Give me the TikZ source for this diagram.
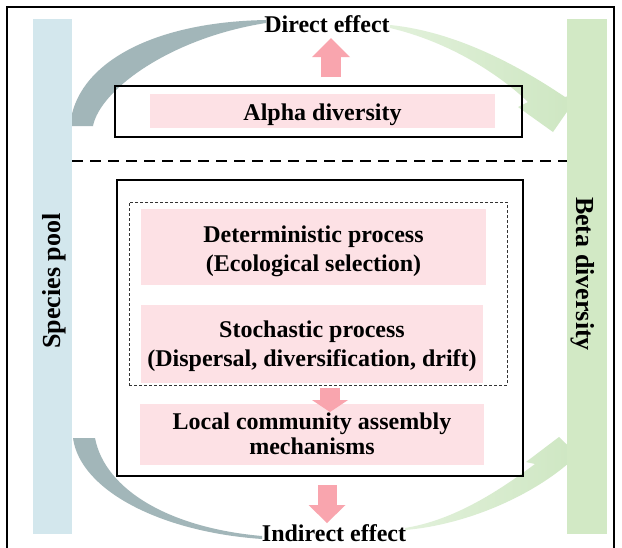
\documentclass[tikz,border=0pt]{standalone}
\usepackage{fontspec}
\setmainfont{Liberation Serif}
\usetikzlibrary{arrows.meta}

\definecolor{poolblue}{HTML}{D3E7ED}
\definecolor{betagreen}{HTML}{D2E9C5}
\definecolor{boxpink}{HTML}{FDE1E5}
\definecolor{arrowpink}{HTML}{F9A5AE}
\definecolor{bandgray}{HTML}{A2B6B9}
\definecolor{bandgreen}{HTML}{CDE6C1}
\definecolor{bandgreenpale}{HTML}{E2F1DB}

\begin{document}
\begin{tikzpicture}[x=1pt,y=-1pt,
  lbl/.style={anchor=base, inner sep=0pt, font=\fontsize{24}{28}\selectfont\bfseries},
  sidelbl/.style={anchor=base, inner sep=0pt, font=\fontsize{26}{30}\selectfont\bfseries},
  pinkbox/.style={fill=boxpink, draw=none, inner sep=0pt},
  framebox/.style={draw=black, line width=2pt, inner sep=0pt},
  sidebar/.style={draw=none, inner sep=0pt, minimum width=40pt, minimum height=515pt},
  flow/.style={draw=arrowpink}
]
\useasboundingbox (0,0) rectangle (622,547);
\fill[white] (0,0) rectangle (622,547);

% outer frame (runs past the lower edge)
\draw[line width=1.6pt] (7,565) -- (7,7) -- (614,7) -- (614,565);

% direct path: species pool -> beta diversity over the top
\fill[bandgray] (70,126) .. controls (75,65) and (150,22) .. (266,20)
  -- (266,23) .. controls (170,38) and (100,90) .. (93,126) -- cycle;
\shade[left color=bandgreenpale, right color=bandgreen]
  (390,25) .. controls (460,32) and (525,70) .. (565,97)
  -- (580,93) -- (553,132) -- (518,107) -- (528,102)
  .. controls (500,75) and (450,42) .. (390,28) -- cycle;

% indirect path: species pool -> beta diversity along the bottom
\fill[bandgray] (73,438) .. controls (80,490) and (160,532) .. (262,539)
  -- (262,536) .. controls (170,528) and (105,490) .. (95,438) -- cycle;
\shade[left color=bandgreenpale, right color=bandgreen]
  (405,528) .. controls (455,520) and (500,490) .. (535,464)
  -- (526,462) -- (559,437) -- (585,462) -- (570,462)
  .. controls (530,497) and (465,525) .. (405,530) -- cycle;

% side bars
\node[sidebar, fill=poolblue, minimum width=39pt] (pool) at (52.5,276.5) {};
\node[sidebar, fill=betagreen] (beta) at (587,276.5) {};
\node[sidelbl, rotate=90] (poollbl) at (60,281) {Species pool};
\node[sidelbl, rotate=-90] (betalbl) at (576,274) {Beta diversity};

% separator between the two levels
\coordinate (divL) at (72,161);
\coordinate (divR) at (567,161);
\draw[line width=2.5pt, dash pattern=on 11pt off 7pt] (divL) -- (divR);

% alpha diversity level
\node[framebox, minimum width=407pt, minimum height=51pt] (alphaframe) at (318.5,111.5) {};
\node[pinkbox, minimum width=345pt, minimum height=34pt] (alphabox) at (322.5,110.5) {};
\node[lbl] (alphalbl) at (322.5,120) {Alpha diversity};
\node[lbl] (direct) at (327,32) {Direct effect};
\coordinate (upS) at (331,77);
\coordinate (upE) at (331,38);
\draw[flow, line width=20pt, -{Triangle[width=38pt,length=19pt,line width=0pt]}] (upS) -- (upE);

% assembly processes
\node[framebox, line width=2.5pt, minimum width=406pt, minimum height=296pt] (assembly) at (320,328) {};
\node[draw=black!80, dash pattern=on 3pt off 2pt, line width=0.8pt, inner sep=0pt,
      minimum width=378pt, minimum height=183pt] (processes) at (318,293.5) {};
\node[pinkbox, minimum width=345pt, minimum height=76pt] (detbox) at (313.5,247) {};
\node[lbl] (det1) at (313.5,242) {Deterministic process};
\node[lbl] (det2) at (313.5,271) {(Ecological selection)};
\node[pinkbox, minimum width=342pt, minimum height=78pt] (stobox) at (312,344) {};
\node[lbl] (sto1) at (312,337) {Stochastic process};
\node[lbl] (sto2) at (312,366) {(Dispersal, diversification, drift)};
\node[pinkbox, minimum width=344pt, minimum height=61pt] (localbox) at (312,434.5) {};
\node[lbl] (local1) at (312,429) {Local community assembly};
\node[lbl] (local2) at (312,454) {mechanisms};
\coordinate (midS) at (330,388);
\coordinate (midE) at (330,412);
\draw[flow, line width=20pt, -{Triangle[width=36pt,length=12pt,line width=0pt]}] (midS) -- (midE);

% indirect effect
\coordinate (downS) at (327,485);
\coordinate (downE) at (327,523);
\draw[flow, line width=19pt, -{Triangle[width=37pt,length=18pt,line width=0pt]}] (downS) -- (downE);
\node[lbl] (indirect) at (334,541) {Indirect effect};
\end{tikzpicture}
\end{document}
